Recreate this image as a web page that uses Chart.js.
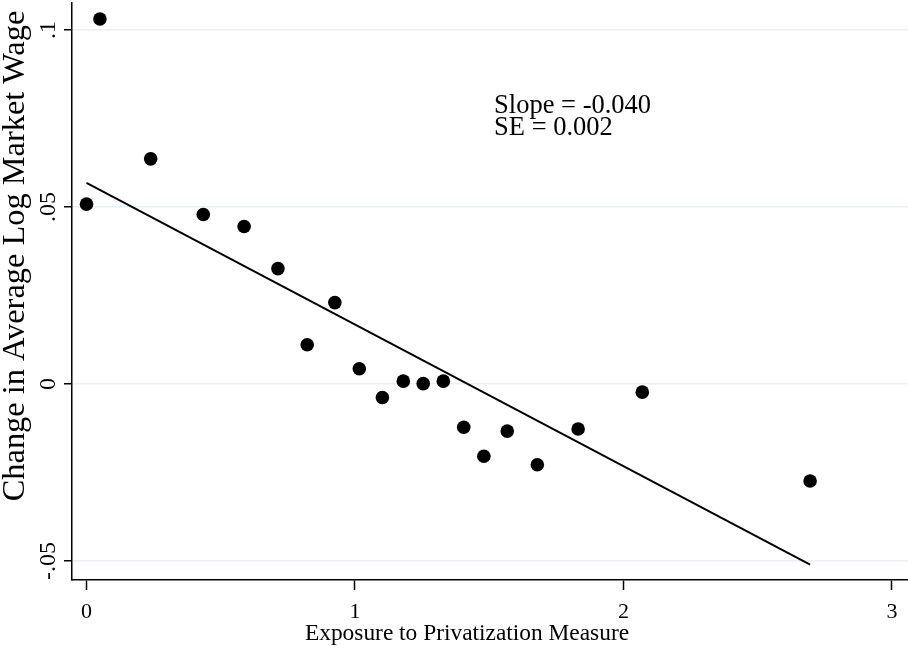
<!DOCTYPE html>
<html>
<head>
<meta charset="utf-8">
<script src="https://cdn.jsdelivr.net/npm/chart.js@4.4.1/dist/chart.umd.min.js"></script>
<style>
  html, body { margin: 0; padding: 0; background: #fff; overflow: hidden; }
  #wrap { width: 908px; height: 649px; }
</style>
</head>
<body>
<div id="wrap"><canvas id="scatterChart" width="908" height="649"></canvas></div>
<script>
// binned scatter: exposure vs change in log wage
const exposure = [0, 0.050, 0.239, 0.435, 0.587, 0.713, 0.822, 0.925, 1.016, 1.102,
                  1.180, 1.254, 1.329, 1.405, 1.480, 1.567, 1.679, 1.831, 2.070, 2.695];
const wageChange = [0.0508, 0.1031, 0.0636, 0.0479, 0.0445, 0.0326, 0.0111, 0.0230, 0.0043, -0.0038,
                    0.0008, 0.0001, 0.0008, -0.0122, -0.0204, -0.0133, -0.0228, -0.0127, -0.0023, -0.0274];

// fitted line
const fitSlope = -0.040;
const fitIntercept = 0.0568;
const fitSE = 0.002;

const xTicks = [0, 1, 2, 3];
const xTickLabels = ['0', '1', '2', '3'];
const yTicks = [-0.05, 0, 0.05, 0.1];
const yTickLabels = ['-.05', '0', '.05', '.1'];

const xTitle = 'Exposure to Privatization Measure';
const yTitle = 'Change in Average Log Market Wage';
const noteLines = ['Slope = ' + fitSlope.toFixed(3), 'SE = ' + fitSE.toFixed(3)];

const serif = "'Liberation Serif', 'Times New Roman', serif";

const points = exposure.map((x, i) => ({ x: x, y: wageChange[i] }));
const xLo = Math.min(...exposure), xHi = Math.max(...exposure);
const fitLine = [
	{ x: xLo, y: fitIntercept + fitSlope * xLo },
	{ x: xHi, y: fitIntercept + fitSlope * xHi }
];

// keep the plot box fixed: no extra room for overhanging labels
function fixBox(size, prop) {
	return function (s) {
		s[prop] = size;
		s.paddingTop = 0;
		s.paddingBottom = 0;
		s.paddingLeft = 0;
		s.paddingRight = 0;
	};
}

// ===================
// Titles and note
// ===================
const textPlugin = {
	id: 'textPlugin',
	afterDraw(chart) {
		const ctx = chart.ctx;
		const xs = chart.scales.x, ys = chart.scales.y;
		ctx.save();
		ctx.fillStyle = '#000';

		// x title
		ctx.font = '23.4px ' + serif;
		ctx.textAlign = 'center';
		ctx.textBaseline = 'alphabetic';
		ctx.fillText(xTitle, 467, 640);

		// y title
		ctx.save();
		ctx.translate(24, 256);
		ctx.rotate(-Math.PI / 2);
		ctx.font = '32.4px ' + serif;
		ctx.fillText(yTitle, 0, 0);
		ctx.restore();

		// slope note
		ctx.font = '26.5px ' + serif;
		ctx.textAlign = 'left';
		const nx = xs.getPixelForValue(1.518);
		const ny = ys.getPixelForValue(0.0766);
		noteLines.forEach((t, i) => ctx.fillText(t, nx, ny + i * 22));
		ctx.restore();
	}
};

var ctx = document.getElementById('scatterChart').getContext('2d');
var chart = new Chart(ctx, {
	type: 'scatter',
	data: {
		datasets: [{
			data: points,
			backgroundColor: '#000',
			borderWidth: 0,
			pointRadius: 6.8,
			pointHoverRadius: 6.8,
			clip: false
		}, {
			type: 'line',
			data: fitLine,
			borderColor: '#000',
			borderWidth: 2,
			pointRadius: 0,
			fill: false
		}]
	},
	options: {
		responsive: false,
		animation: false,
		devicePixelRatio: 1,
		layout: { autoPadding: false, padding: { top: 3, left: 0, right: 0, bottom: 0 } },
		plugins: {
			legend: { display: false },
			tooltip: { enabled: false }
		},
		scales: {
			x: {
				type: 'linear',
				min: -0.054,
				max: 3.0596,
				afterBuildTicks: s => { s.ticks = xTicks.map(v => ({ value: v })); },
				afterFit: fixBox(69, 'height'),
				grid: {
					drawOnChartArea: false,
					drawTicks: true,
					tickLength: 10,
					tickColor: '#000',
					tickWidth: 1.5
				},
				border: { color: '#000', width: 1.5 },
				ticks: {
					color: '#000',
					font: { family: serif, size: 22 },
					padding: 9,
					maxRotation: 0,
					callback: (v, i) => xTickLabels[i]
				}
			},
			y: {
				type: 'linear',
				min: -0.05537,
				max: 0.10763,
				afterBuildTicks: s => { s.ticks = yTicks.map(v => ({ value: v })); },
				afterFit: fixBox(72, 'width'),
				grid: {
					color: '#e8f0f3',
					lineWidth: 1.5,
					drawTicks: true,
					tickLength: 8,
					tickColor: '#000',
					tickWidth: 1.5
				},
				border: { color: '#000', width: 1.5 },
				ticks: {
					color: '#000',
					font: { family: serif, size: 24 },
					minRotation: 90,
					maxRotation: 90,
					crossAlign: 'center',
					padding: -4,
					callback: (v, i) => yTickLabels[i]
				}
			}
		}
	},
	plugins: [textPlugin]
});
</script>
</body>
</html>
